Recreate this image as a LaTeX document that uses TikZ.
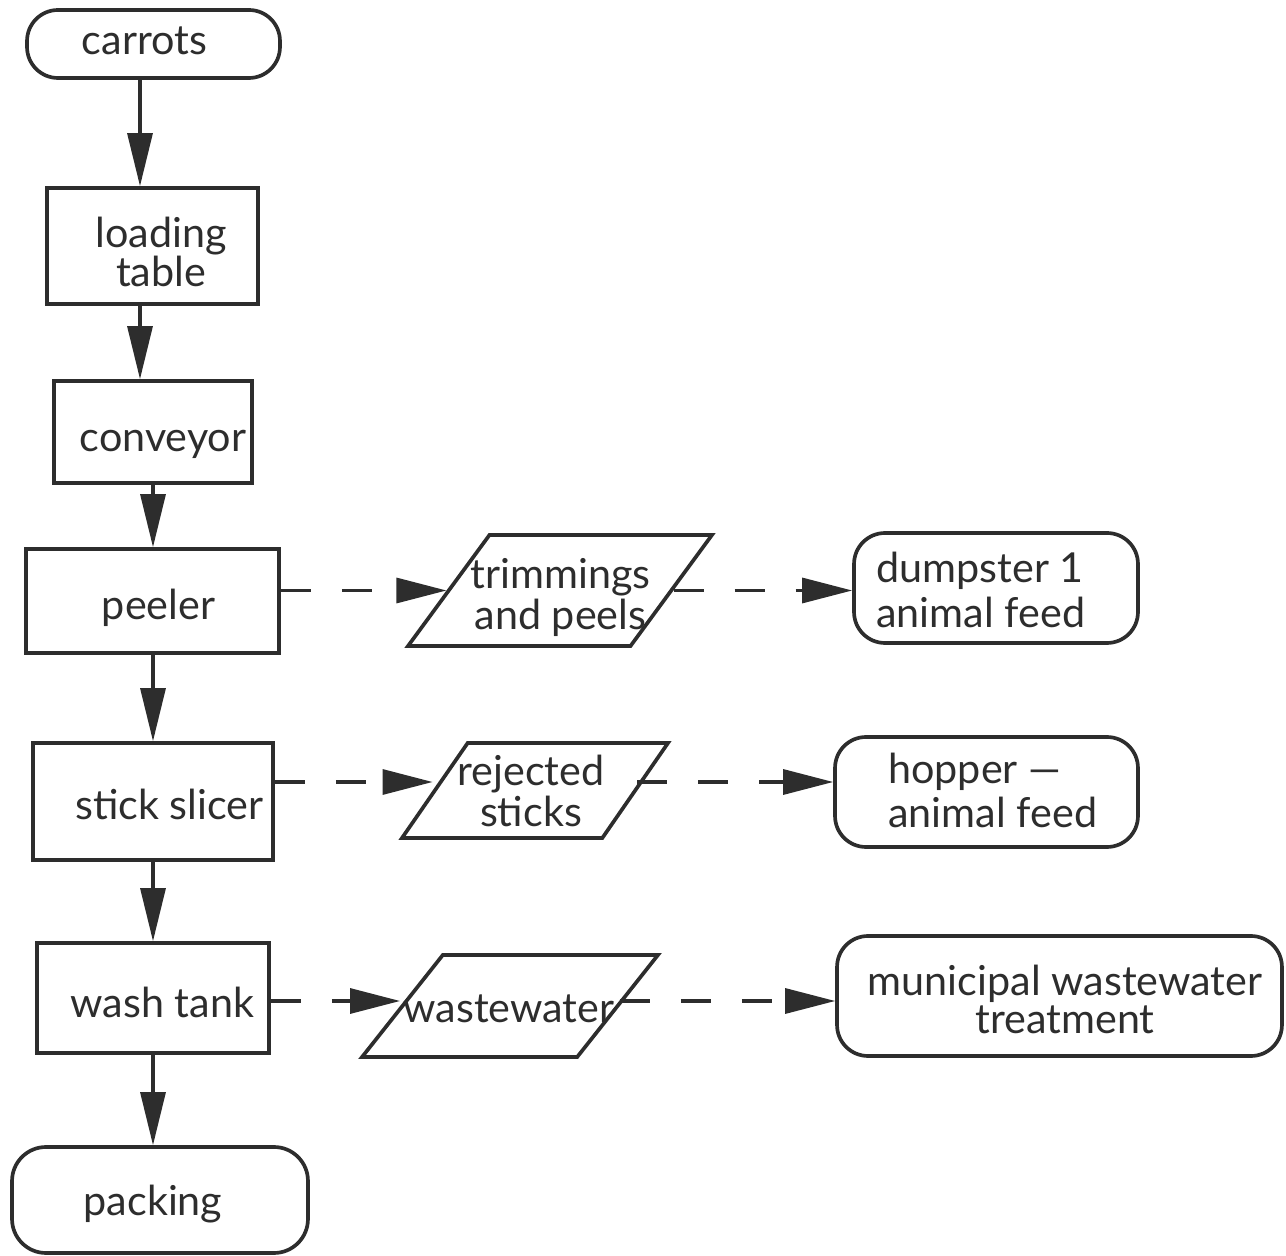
\documentclass[tikz,border=0pt]{standalone}
\usepackage{fontspec}
\setmainfont{Lato}
\usetikzlibrary{arrows.meta,shapes.geometric}
\definecolor{ink}{RGB}{45,45,45}
\tikzset{
  box/.style={draw=ink, line width=2.1pt, rectangle, inner sep=0pt},
  term/.style={box, rounded corners=0.62cm},
  para/.style={draw=ink, line width=2.1pt, trapezium, trapezium stretches=true, inner sep=1pt},
  txt/.style={text=ink, inner sep=0pt, anchor=base},
  ft/.style={font=\fontsize{23.5}{#1}\selectfont},
  flow/.style={draw=ink, line width=1.8pt, -{Triangle[length=1.06cm,width=0.5cm]}},
  side/.style={draw=ink, line width=1.8pt, dash pattern=on 0.6cm off 0.62cm, -{Triangle[length=1.0cm,width=0.5cm]}},
}
\begin{document}
\begin{tikzpicture}[x=0.02cm, y=-0.02cm]
\useasboundingbox (0,0) rectangle (1286,1256);

% main column boxes
\node[term, minimum width=5.06cm, minimum height=1.36cm] (carrots) at (153.5,44) {};
\node[box, minimum width=4.22cm, minimum height=2.32cm] (loading) at (152.5,246) {};
\node[box, minimum width=3.96cm, minimum height=2.04cm] (conveyor) at (153,432) {};
\node[box, minimum width=5.06cm, minimum height=2.08cm] (peeler) at (152.5,601) {};
\node[box, minimum width=4.8cm, minimum height=2.34cm] (slicer) at (153,801.5) {};
\node[box, minimum width=4.64cm, minimum height=2.2cm] (wash) at (153,998) {};
\node[term, minimum width=5.92cm, minimum height=2.12cm, rounded corners=0.68cm] (packing) at (160,1200) {};

% main column texts (multi-line nodes: base = last line)
\node[txt, ft=24pt] (carrots-t) at (144.5,55) {carrots};
\node[txt, ft=18.2pt, align=center] (loading-t) at (161,287) {loading\\table};
\node[txt, ft=24pt] (conveyor-t) at (163,452) {conveyor};
\node[txt, ft=24pt] (peeler-t) at (158.5,620) {peeler};
\node[txt, ft=24pt] (slicer-t) at (169.5,820) {stick slicer};
\node[txt, ft=24pt] (wash-t) at (162.5,1017) {wash tank};
\node[txt, ft=24pt] (packing-t) at (153,1215) {packing};

% by-products
\node[para, trapezium left angle=60, trapezium right angle=120, minimum width=6.08cm, minimum height=2.22cm] (trim) at (560,590.5) {};
\node[para, trapezium left angle=64, trapezium right angle=116, minimum width=5.32cm, minimum height=1.9cm] (rej) at (535,790.5) {};
\node[para, trapezium left angle=59, trapezium right angle=121, minimum width=5.92cm, minimum height=2.04cm] (waste) at (510,1006) {};
\node[txt, ft=23.8pt, align=center] (trim-t) at (560.5,630) {trimmings\\and peels};
\node[txt, ft=23.8pt, align=center] (rej-t) at (531,827) {rejected\\sticks};
\node[txt, ft=24pt] (waste-t) at (509,1023) {wastewater};

% destinations
\node[term, minimum width=5.68cm, minimum height=2.2cm] (dump) at (996,588) {};
\node[term, minimum width=6.06cm, minimum height=2.2cm] (hopper) at (986.5,792) {};
\node[term, minimum width=8.9cm, minimum height=2.4cm] (muni) at (1059.5,996) {};
\node[txt, ft=26pt, align=left, anchor=base west] (dump-t) at (876,628) {dumpster 1\\animal feed};
\node[txt, ft=25.5pt, align=left, anchor=base west] (hopper-t) at (888,828) {hopper —\\animal feed};
\node[txt, ft=21.5pt, align=center] (muni-t) at (1065,1033) {municipal wastewater\\treatment};

% helper coordinates
\coordinate (xa) at (140,0);
\coordinate (xb) at (153,0);
\coordinate (yr) at (0,782);
\coordinate (yw) at (0,1001);

% main flow
\draw[flow] (carrots.south -| xa) -- (loading.north -| xa);
\draw[flow] (loading.south -| xa) -- (conveyor.north -| xa);
\draw[flow] (conveyor.south -| xb) -- (peeler.north -| xb);
\draw[flow] (peeler.south -| xb) -- (slicer.north -| xb);
\draw[flow] (slicer.south -| xb) -- (wash.north -| xb);
\draw[flow] (wash.south -| xb) -- (packing.north -| xb);

% side flows
\draw[side] (peeler.east |- trim.west) -- (trim.west);
\draw[side] (trim.east) -- (dump.west |- trim.east);
\draw[side] (slicer.east |- yr) -- (rej.west |- yr);
\draw[side] (rej.east |- yr) -- (hopper.west |- yr);
\draw[side] (wash.east |- yw) -- (waste.west |- yw);
\draw[side] (waste.east |- yw) -- (muni.west |- yw);
\end{tikzpicture}
\end{document}
